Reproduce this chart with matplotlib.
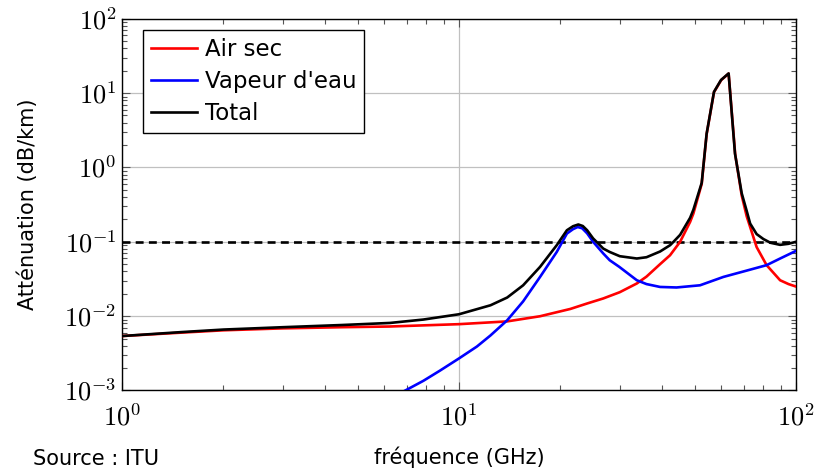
import matplotlib
matplotlib.use("Agg")
import matplotlib.pyplot as plt
from matplotlib.ticker import LogLocator, NullFormatter, FuncFormatter
import numpy as np

plt.rcParams['mathtext.fontset'] = 'cm'
plt.rcParams['font.family'] = ['DejaVu Sans']

# valeurs (ITU)
freq_air = [1, 1.5, 2, 3, 4.5, 6.2, 10, 13.9, 17.4, 21.4, 24, 26.8, 30, 33.7, 36,
            39.5, 42.3, 45.3, 48.5, 49.6, 52.5, 54.3, 57.1, 60, 63.1, 66, 69, 71.4,
            76.4, 81.8, 89.7, 95, 100]
air_sec = [5.4e-3, 6.0e-3, 6.45e-3, 6.85e-3, 7.1e-3, 7.25e-3, 7.8e-3, 8.5e-3, 9.97e-3,
           0.0125, 0.0148, 0.0173, 0.021, 0.0275, 0.034, 0.05, 0.066, 0.1, 0.185,
           0.24, 0.6, 2.8, 10.3, 15.0, 18.3, 1.5, 0.42, 0.22, 0.085, 0.0485, 0.0304,
           0.027, 0.025]

freq_h2o = [6.93, 7.84, 8.78, 10, 11.3, 12.4, 13.9, 15.5, 17.4, 19.5, 20.9, 21.8, 22.5,
            23.2, 24, 25, 26.8, 28, 29.9, 33.7, 36, 39.5, 44.2, 51.9, 60.9, 70, 81.8,
            90, 100]
vapeur = [1.0e-3, 1.35e-3, 1.85e-3, 2.7e-3, 3.9e-3, 5.5e-3, 8.8e-3, 0.0158, 0.0337,
          0.073, 0.129, 0.148, 0.158, 0.152, 0.13, 0.1, 0.0696, 0.0565, 0.046, 0.0304,
          0.027, 0.0247, 0.0243, 0.026, 0.0337, 0.040, 0.0485, 0.06, 0.0755]

freq_tot = [1, 1.5, 2, 3, 4.5, 6.24, 7.84, 10, 12.4, 13.9, 15.5, 17.4, 19.5, 20.9,
            21.8, 22.6, 23.3, 24, 25, 26.8, 28, 30, 33.7, 36, 39.5, 42.3, 43.3, 45.3,
            48.5, 49.6, 52.5, 54.3, 57.1, 59.9, 63.1, 65.9, 69, 71.4, 73.1, 76.4, 80,
            84, 89.7, 95, 100]
total = [5.4e-3, 6.1e-3, 6.6e-3, 7.1e-3, 7.6e-3, 8.1e-3, 9.0e-3, 0.0106, 0.014, 0.0178,
         0.026, 0.046, 0.09, 0.143, 0.162, 0.171, 0.163, 0.143, 0.111, 0.081, 0.073,
         0.064, 0.0596, 0.062, 0.074, 0.09, 0.1, 0.124, 0.21, 0.27, 0.62, 2.85, 10.4,
         15.0, 18.4, 1.54, 0.45, 0.26, 0.176, 0.127, 0.109, 0.097, 0.091, 0.094, 0.1]

seuil = 0.1

fig = plt.figure(figsize=(8.16, 4.69), dpi=100)
ax = fig.add_axes([0.1495, 0.1674, 0.826, 0.7926])

ax.axhline(seuil, color='black', lw=1.9, ls=(0, (3, 2)), zorder=2)
ax.plot(freq_air, air_sec, color='#ff0000', lw=1.9, label='Air sec', zorder=3)
ax.plot(freq_h2o, vapeur, color='#0000ff', lw=1.9, label="Vapeur d'eau", zorder=3)
ax.plot(freq_tot, total, color='black', lw=1.9, label='Total', zorder=4)

ax.set_xscale('log')
ax.set_yscale('log')
ax.set_xlim(1, 100)
ax.set_ylim(1e-3, 1e2)

puiss = FuncFormatter(lambda v, pos: r'$10^{%d}$' % int(round(np.log10(v))))
ax.xaxis.set_major_locator(LogLocator(base=10, numticks=10))
ax.yaxis.set_major_locator(LogLocator(base=10, numticks=10))
ax.xaxis.set_major_formatter(puiss)
ax.yaxis.set_major_formatter(puiss)
ax.xaxis.set_minor_locator(LogLocator(base=10, subs=range(2, 10), numticks=20))
ax.yaxis.set_minor_locator(LogLocator(base=10, subs=range(2, 10), numticks=20))
ax.xaxis.set_minor_formatter(NullFormatter())
ax.yaxis.set_minor_formatter(NullFormatter())

ax.grid(True, which='major', color='#c0c0c0', lw=0.9)
ax.tick_params(which='both', direction='in', top=True, right=True,
               labelsize=19, color='#555555')
ax.tick_params(which='major', length=6, width=0.8)
ax.tick_params(which='minor', length=3.5, width=0.8)
ax.tick_params(axis='x', pad=10)
ax.tick_params(axis='y', pad=4)
for s in ax.spines.values():
    s.set_linewidth(1.0)

ax.set_xlabel('fréquence (GHz)', fontsize=15, labelpad=11)
ax.set_ylabel('Atténuation (dB/km)', fontsize=15, labelpad=19)

leg = ax.legend(loc='upper left', bbox_to_anchor=(0.031, 0.97), fontsize=16.5,
                frameon=True, fancybox=False, edgecolor='black', framealpha=1,
                handlelength=2.0, handletextpad=0.35, borderpad=0.35,
                labelspacing=0.4, borderaxespad=0)
leg.get_frame().set_linewidth(1.0)

fig.text(33 / 816, 4 / 469, 'Source : ITU', fontsize=15, va='baseline', ha='left')

fig.savefig('out.png', dpi=100)
